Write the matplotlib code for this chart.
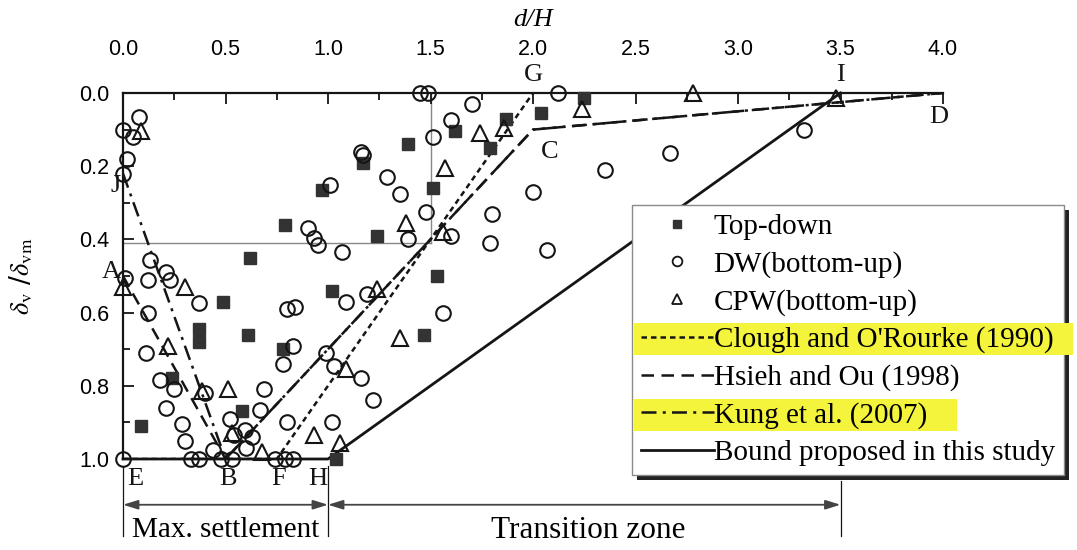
import matplotlib
matplotlib.use("Agg")
import numpy as np
import matplotlib.pyplot as plt
from matplotlib.patches import Rectangle
from matplotlib.lines import Line2D
from matplotlib.ticker import MultipleLocator, FormatStrFormatter

plt.rcParams['mathtext.fontset'] = 'stix'

# measured points, d/H and settlement ratio
td_x = [0.09, 0.24, 0.37, 0.37, 0.49, 0.58, 0.61, 0.62, 0.78, 0.79, 0.97, 1.02,
        1.04, 1.17, 1.24, 1.39, 1.47, 1.51, 1.53, 1.62, 1.79, 1.87, 2.04, 2.25]
td_y = [0.91, 0.78, 0.645, 0.68, 0.57, 0.87, 0.66, 0.45, 0.70, 0.36, 0.265, 0.54,
        1.0, 0.19, 0.39, 0.14, 0.66, 0.26, 0.50, 0.105, 0.15, 0.07, 0.055, 0.015]

dw_x = [0.0, 0.08, 0.05, 0.02, 0.0, 0.13, 0.01, 0.12, 0.21, 0.23, 0.12, 0.37,
        0.11, 0.18, 0.25, 0.21, 0.29, 0.30, 0.40, 0.52, 0.595, 0.54, 0.63, 0.60,
        0.44, 0.67, 0.69, 0.80, 1.02, 0.83, 0.78, 0.80, 0.84, 1.03, 0.99, 1.16,
        1.22, 1.09, 1.19, 1.56, 0.0, 0.33, 0.37, 0.48, 0.53, 0.74, 0.79, 0.83,
        1.01, 0.90, 0.93, 0.95, 1.07, 1.16, 1.17, 1.29, 1.35, 1.51, 1.48, 1.39,
        1.45, 1.49, 1.60, 1.70, 1.60, 1.80, 1.79, 2.0, 2.07, 2.12, 2.35, 2.67, 3.32]
dw_y = [0.10, 0.065, 0.12, 0.18, 0.22, 0.455, 0.505, 0.51, 0.49, 0.51, 0.60, 0.575,
        0.71, 0.785, 0.81, 0.86, 0.905, 0.95, 0.82, 0.89, 0.92, 0.935, 0.94, 0.97,
        0.975, 0.865, 0.81, 0.90, 0.90, 0.69, 0.74, 0.59, 0.585, 0.745, 0.71, 0.78,
        0.84, 0.57, 0.55, 0.60, 1.0, 1.0, 1.0, 1.0, 1.0, 1.0, 1.0, 1.0,
        0.25, 0.37, 0.395, 0.415, 0.435, 0.16, 0.17, 0.23, 0.275, 0.12, 0.325, 0.40,
        0.0, 0.0, 0.075, 0.03, 0.39, 0.33, 0.41, 0.27, 0.43, 0.0, 0.21, 0.165, 0.10]

cpw_x = [0.09, 0.0, 0.30, 0.22, 0.385, 0.51, 0.53, 0.68, 0.93, 1.06, 1.24, 1.09,
         1.57, 1.38, 1.74, 1.86, 1.56, 1.35, 2.24, 2.78, 3.48]
cpw_y = [0.105, 0.53, 0.53, 0.69, 0.815, 0.81, 0.93, 0.98, 0.935, 0.955, 0.535, 0.755,
         0.205, 0.355, 0.11, 0.095, 0.38, 0.67, 0.045, 0.0, 0.015]

# envelope curves
clough_x = [0.0, 0.75, 2.0]
clough_y = [1.0, 1.0, 0.0]
hsieh_x = [0.0, 0.5, 2.0, 4.0]
hsieh_y = [0.5, 1.0, 0.1, 0.0]
kung_x = [0.0, 0.5, 2.0, 4.0]
kung_y = [0.22, 1.0, 0.1, 0.0]
bound_x = [0.0, 1.0, 3.5]
bound_y = [1.0, 1.0, 0.0]

labels = ["Top-down", "DW(bottom-up)", "CPW(bottom-up)", "Clough and O'Rourke (1990)",
          "Hsieh and Ou (1998)", "Kung et al. (2007)", "Bound proposed in this study"]

serif = "Liberation Serif"
W, H = 1077, 550
fig = plt.figure(figsize=(W / 100, H / 100), dpi=100)
ax = fig.add_axes([123 / W, 1 - 459 / H, 820 / W, 366 / H])

ink = "#151515"
ax.plot(clough_x, clough_y, color=ink, lw=1.8, ls=(0, (2.2, 1.6)), zorder=2)
ax.plot(hsieh_x, hsieh_y, color=ink, lw=1.8, ls=(0, (5, 3)), zorder=2)
ax.plot(kung_x, kung_y, color=ink, lw=1.8, ls=(0, (6, 2.5, 1.2, 2.5)), zorder=2)
ax.plot(bound_x, bound_y, color=ink, lw=2.0, zorder=2, clip_on=False)

# thin guide lines at the crossing point
ax.plot([1.5, 1.5], [0.0, 0.41], color="#888888", lw=1.0, zorder=1)
ax.plot([0.0, 1.5], [0.41, 0.41], color="#888888", lw=1.0, zorder=1)

ax.plot(td_x, td_y, ls="none", marker="s", ms=8, mfc="#333333", mec="#333333", clip_on=False, zorder=3)
ax.plot(dw_x, dw_y, ls="none", marker="o", ms=10.5, mfc="none", mec=ink, mew=1.5, clip_on=False, zorder=3)
ax.plot(cpw_x, cpw_y, ls="none", marker="^", ms=11, mfc="none", mec=ink, mew=1.5, clip_on=False, zorder=3)

ax.set_xlim(0, 4.0)
ax.set_ylim(1.0, 0.0)
ax.xaxis.tick_top()
ax.xaxis.set_label_position("top")
ax.xaxis.set_major_locator(MultipleLocator(0.5))
ax.xaxis.set_minor_locator(MultipleLocator(0.25))
ax.yaxis.set_major_locator(MultipleLocator(0.2))
ax.yaxis.set_minor_locator(MultipleLocator(0.1))
ax.xaxis.set_major_formatter(FormatStrFormatter("%.1f"))
ax.yaxis.set_major_formatter(FormatStrFormatter("%.1f"))
ax.tick_params(which="both", direction="in", width=1.3, color=ink)
ax.tick_params(which="major", length=8, labelsize=15.5)
ax.tick_params(axis="x", which="major", pad=24)
ax.tick_params(axis="y", which="major", pad=10)
ax.tick_params(which="minor", length=5)
for t in ax.get_xticklabels() + ax.get_yticklabels():
    t.set_fontfamily("Liberation Sans")
for s in ("bottom", "right"):
    ax.spines[s].set_visible(False)
for s in ("top", "left"):
    ax.spines[s].set_linewidth(1.6)
    ax.spines[s].set_color(ink)

ax.set_xlabel("d/H", fontsize=19, fontfamily=serif, fontstyle="italic", labelpad=9)
ax.set_ylabel(r"$\delta_{\rm v}$ /$\delta_{\rm vm}$", fontsize=19, labelpad=31)

# point letters
letter_kw = dict(fontsize=19, fontfamily=serif, ha="center", va="center", color=ink, clip_on=False)
for txt, x, y in [("G", 2.0, -0.05), ("I", 3.5, -0.05), ("D", 3.98, 0.065), ("C", 2.08, 0.16),
                  ("J", -0.035, 0.255), ("A", -0.055, 0.49), ("E", 0.06, 1.055), ("B", 0.51, 1.055),
                  ("F", 0.76, 1.055), ("H", 0.95, 1.055)]:
    ax.text(x, y, txt, **letter_kw)

# zone arrows under the plot
for x in (0.0, 1.0):
    ax.plot([x, x], [1.02, 1.21], color=ink, lw=0.9, clip_on=False)
ax.plot([3.5, 3.5], [1.06, 1.21], color=ink, lw=0.9, clip_on=False)
arrow = dict(arrowstyle="<|-|>,head_length=0.9,head_width=0.28", color="#444444", lw=1.3,
             shrinkA=0, shrinkB=0)
ax.annotate("", xy=(0.0, 1.125), xytext=(1.0, 1.125), arrowprops=arrow, annotation_clip=False)
ax.annotate("", xy=(1.0, 1.125), xytext=(3.5, 1.125), arrowprops=arrow, annotation_clip=False)
ax.text(0.5, 1.195, "Max. settlement", fontsize=21, fontfamily=serif, ha="center", va="center", clip_on=False)
ax.text(2.27, 1.195, "Transition zone", fontsize=22.5, fontfamily=serif, ha="center", va="center", clip_on=False)

# legend drawn in an overlay axes so the highlight sits under the text
handles = [
    Line2D([], [], ls="none", marker="s", ms=6, mfc="#333333", mec="#333333"),
    Line2D([], [], ls="none", marker="o", ms=7, mfc="none", mec=ink, mew=1.3),
    Line2D([], [], ls="none", marker="^", ms=7.5, mfc="none", mec=ink, mew=1.3),
    Line2D([], [], color=ink, lw=1.8, ls=(0, (2.2, 1.6))),
    Line2D([], [], color=ink, lw=1.8, ls=(0, (5, 3))),
    Line2D([], [], color=ink, lw=1.8, ls=(0, (6, 2.5, 1.2, 2.5))),
    Line2D([], [], color=ink, lw=2.0),
]
ax2 = fig.add_axes(ax.get_position(), zorder=2)
ax2.set_axis_off()
leg = ax2.legend(handles, labels, loc="upper left", bbox_to_anchor=(632 / W, 1 - 205 / H),
                 bbox_transform=fig.transFigure, frameon=False,
                 prop={"family": serif, "size": 21}, handlelength=2.5, handletextpad=0.0,
                 labelspacing=0.37, borderpad=0.3, borderaxespad=0)
leg.set_zorder(5)

fig.canvas.draw()
r = fig.canvas.get_renderer()
inv = fig.transFigure.inverted()
fb = leg.get_window_extent(r)


def fig_rect(x0, y0, x1, y1, **kw):
    (a, b), (c, d) = inv.transform([(x0, y0), (x1, y1)])
    p = Rectangle((a, b), c - a, d - b, transform=fig.transFigure, clip_on=False, **kw)
    ax2.add_artist(p)
    return p


fig_rect(fb.x0 + 5, fb.y0 - 5, fb.x1 + 5, fb.y1 - 5, facecolor="#222222", edgecolor="none", zorder=1)
fig_rect(fb.x0, fb.y0, fb.x1, fb.y1, facecolor="white", edgecolor="#8a8a8a", lw=1.0, zorder=2)
for idx, extra in ((3, 20), (5, 30)):
    tb = leg.get_texts()[idx].get_window_extent(r)
    fig_rect(fb.x0 + 2, tb.y0 - 2, tb.x1 + extra, tb.y1 + 3, facecolor="#f4f43c",
             edgecolor="none", zorder=3)

fig.savefig("out.png", dpi=100)
